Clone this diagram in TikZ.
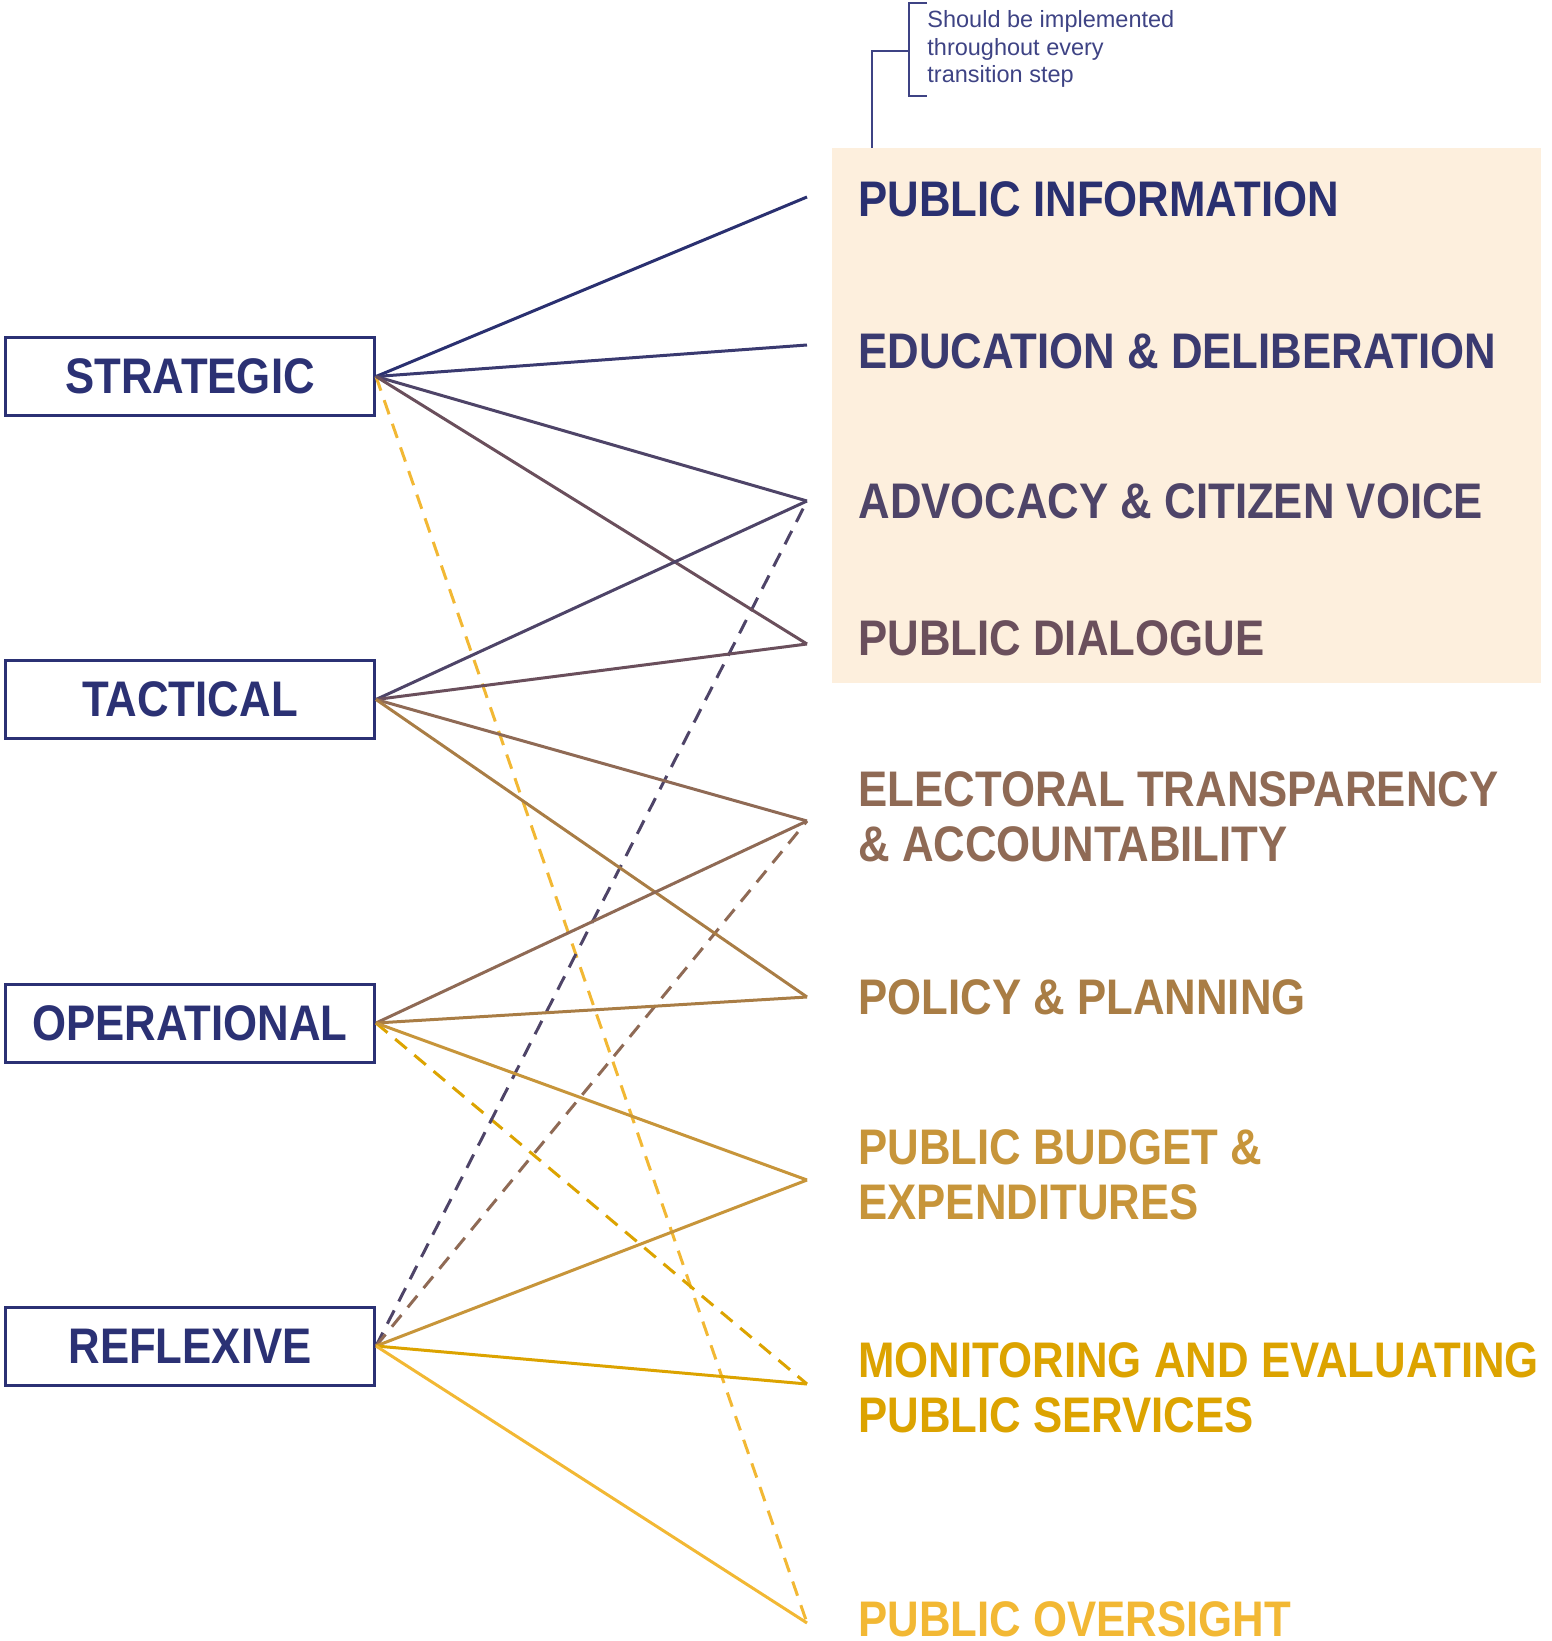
\documentclass[tikz,border=0pt]{standalone}
\usepackage{fontspec}
\setmainfont{Liberation Sans}
\newfontfamily\labfont{Liberation Sans}[FakeStretch=0.875]
\definecolor{navy}{HTML}{2B3174}
\definecolor{annot}{HTML}{3E4384}
\definecolor{beige}{HTML}{FDEFDD}
\definecolor{cinfo}{HTML}{2A3070}
\definecolor{cedu}{HTML}{3A3A70}
\definecolor{cadv}{HTML}{4E4468}
\definecolor{cdia}{HTML}{6A4F5C}
\definecolor{cele}{HTML}{8F6A55}
\definecolor{cpol}{HTML}{A97D45}
\definecolor{cbud}{HTML}{C7953A}
\definecolor{cmon}{HTML}{DCA300}
\definecolor{cove}{HTML}{F2B834}
\begin{document}
\begin{tikzpicture}[x=0.5pt,y=-0.5pt,
  lvl/.style={draw=navy, line width=1.5pt, minimum width=184.5pt, minimum height=39pt,
    inner sep=0pt, text=navy, font=\labfont\bfseries\fontsize{25}{27.5}\selectfont},
  lab/.style={anchor=base west, inner sep=0pt, align=left,
    font=\labfont\bfseries\fontsize{25}{27.5}\selectfont},
  conn/.style={line width=1.5pt},
  dconn/.style={line width=1.5pt, dash pattern=on 7.5pt off 5pt},
  brack/.style={draw=annot, line width=1pt}]
\useasboundingbox (0,0) rectangle (1551,1641);
% group background
\node[fill=beige, minimum width=354.5pt, minimum height=267.5pt, anchor=north west, inner sep=0pt] (grp) at (832,148) {};
% annotation (anchor at baseline of last line)
\node[anchor=base west, inner sep=0pt, align=left, text=annot,
  font=\fontsize{11.75}{13.75}\selectfont] (note) at (927,83)
  {Should be implemented\\throughout every\\transition step};
\draw[brack] (927,3) -- (909,3) -- (909,96) -- (927,96);
\coordinate (brk) at (872,51);
\draw[brack] (909,51) -- (brk) -- (brk |- grp.north);
% level boxes
\node[lvl] (S) at (190,376.5) {STRATEGIC};
\node[lvl] (T) at (190,699.5) {TACTICAL};
\node[lvl] (O) at (190,1023) {OPERATIONAL};
\node[lvl] (R) at (190,1346) {REFLEXIVE};
% target points
\coordinate (tinfo) at (807,197);
\coordinate (tedu) at (807,345);
\coordinate (tadv) at (807,501);
\coordinate (tdia) at (807,644);
\coordinate (tele) at (807,821);
\coordinate (tpol) at (807,997);
\coordinate (tbud) at (807,1180);
\coordinate (tmon) at (807,1384);
\coordinate (tove) at (807,1623);
% labels (anchor at baseline of last line)
\node[lab, text=cinfo] (linfo) at (858,216.6) {PUBLIC INFORMATION};
\node[lab, text=cedu] (ledu) at (858,368.4) {EDUCATION \& DELIBERATION};
\node[lab, text=cadv] (ladv) at (858,519) {ADVOCACY \& CITIZEN VOICE};
\node[lab, text=cdia] (ldia) at (858,655) {PUBLIC DIALOGUE};
\node[lab, text=cele] (lele) at (858,861) {ELECTORAL TRANSPARENCY\\\& ACCOUNTABILITY};
\node[lab, text=cpol] (lpol) at (858,1014) {POLICY \& PLANNING};
\node[lab, text=cbud] (lbud) at (858,1219) {PUBLIC BUDGET \&\\EXPENDITURES};
\node[lab, text=cmon] (lmon) at (858,1432) {MONITORING AND EVALUATING\\PUBLIC SERVICES};
\node[lab, text=cove] (love) at (858,1636) {PUBLIC OVERSIGHT};
% dashed connectors
\draw[dconn, cove] (S.east) -- (tove);
\draw[dconn, cmon] (O.east) -- (tmon);
\draw[dconn, cadv] (R.east) -- (tadv);
\draw[dconn, cele] (R.east) -- (tele);
% solid connectors
\draw[conn, cinfo] (S.east) -- (tinfo);
\draw[conn, cedu] (S.east) -- (tedu);
\draw[conn, cadv] (S.east) -- (tadv);
\draw[conn, cdia] (S.east) -- (tdia);
\draw[conn, cadv] (T.east) -- (tadv);
\draw[conn, cdia] (T.east) -- (tdia);
\draw[conn, cele] (T.east) -- (tele);
\draw[conn, cpol] (T.east) -- (tpol);
\draw[conn, cele] (O.east) -- (tele);
\draw[conn, cpol] (O.east) -- (tpol);
\draw[conn, cbud] (O.east) -- (tbud);
\draw[conn, cbud] (R.east) -- (tbud);
\draw[conn, cmon] (R.east) -- (tmon);
\draw[conn, cove] (R.east) -- (tove);
\end{tikzpicture}
\end{document}
